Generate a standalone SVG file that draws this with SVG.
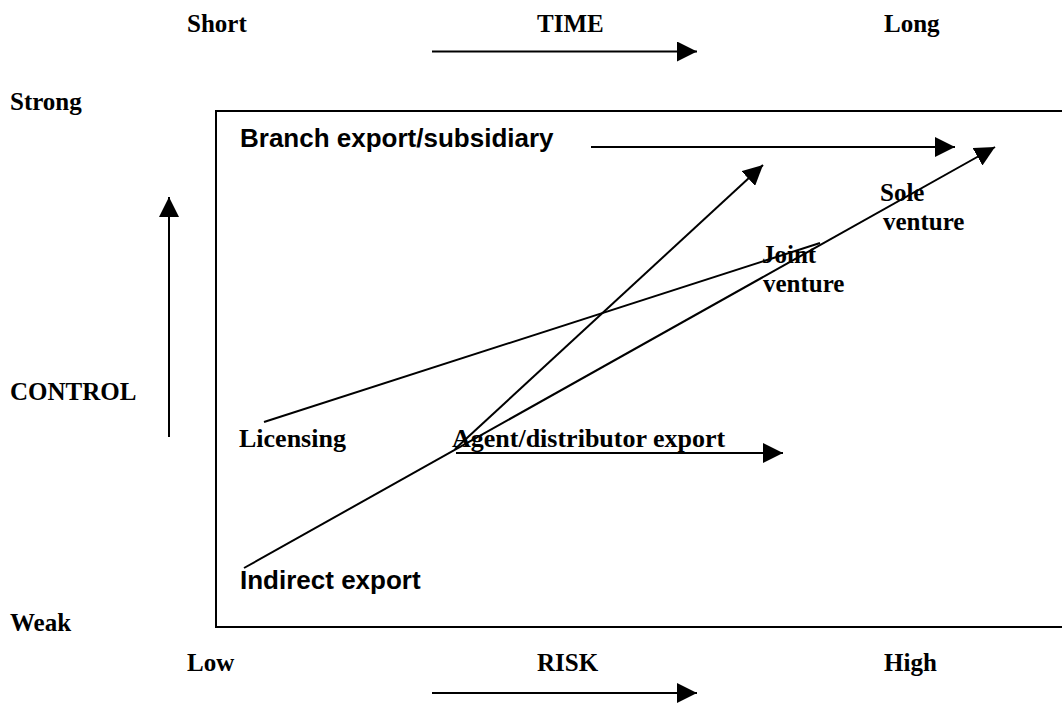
<svg xmlns="http://www.w3.org/2000/svg" width="1062" height="704" viewBox="0 0 1062 704">
<style>
.t{font-family:"Liberation Serif","Times New Roman",serif;font-weight:bold;font-size:25px;fill:#000}
.ti{font-family:"Liberation Serif","Times New Roman",serif;font-weight:bold;font-size:26px;fill:#000}
.a{font-family:"Liberation Sans",Arial,sans-serif;font-weight:bold;font-size:26px;fill:#000}
.ln{stroke:#000;stroke-width:2;fill:none}
.ar{stroke:#000;stroke-width:2;fill:none;marker-end:url(#head)}
</style>
<defs>
<marker id="head" markerUnits="userSpaceOnUse" markerWidth="20" markerHeight="20" refX="20" refY="10" orient="auto">
<path d="M0,0 L20,10 L0,20 Z" fill="#000"/>
</marker>
</defs>
<rect x="0" y="0" width="1062" height="704" fill="#fff"/>
<g id="frame"><rect x="216" y="111" width="900" height="516" class="ln"/></g>
<g id="axis-time">
<text class="t" x="187" y="32">Short</text>
<text class="t" x="537" y="32">TIME</text>
<text class="t" x="884" y="32">Long</text>
</g>
<g id="axis-control">
<text class="t" x="10" y="110">Strong</text>
<text class="t" x="10" y="400">CONTROL</text>
<text class="t" x="10" y="631">Weak</text>
</g>
<g id="axis-risk">
<text class="t" x="187" y="671">Low</text>
<text class="t" x="537" y="671">RISK</text>
<text class="t" x="884" y="671">High</text>
</g>
<g id="branch"><text class="a" x="240" y="147">Branch export/subsidiary</text></g>
<g id="sole"><text class="t" x="880" y="201">Sole</text><text class="t" x="883" y="230">venture</text></g>
<g id="joint"><text class="t" x="762" y="263">Joint</text><text class="t" x="763" y="292">venture</text></g>
<g id="licensing"><text class="ti" x="239" y="447">Licensing</text></g>
<g id="agent"><text class="ti" x="452" y="447">Agent/distributor export</text></g>
<g id="indirect"><text class="a" x="240" y="589">Indirect export</text></g>
<g id="connectors">
<line class="ar" x1="432" y1="51.5" x2="697" y2="51.5"/>
<line class="ar" x1="432" y1="693" x2="697" y2="693"/>
<line class="ar" x1="169" y1="437" x2="169" y2="197"/>
<line class="ar" x1="591" y1="147" x2="955" y2="147"/>
<line class="ar" x1="456" y1="453" x2="783" y2="453"/>
<line class="ar" x1="244" y1="568" x2="995" y2="147"/>
<line class="ar" x1="455" y1="449" x2="763" y2="165"/>
<line class="ln" x1="264" y1="422" x2="820" y2="243"/>
</g>
</svg>
